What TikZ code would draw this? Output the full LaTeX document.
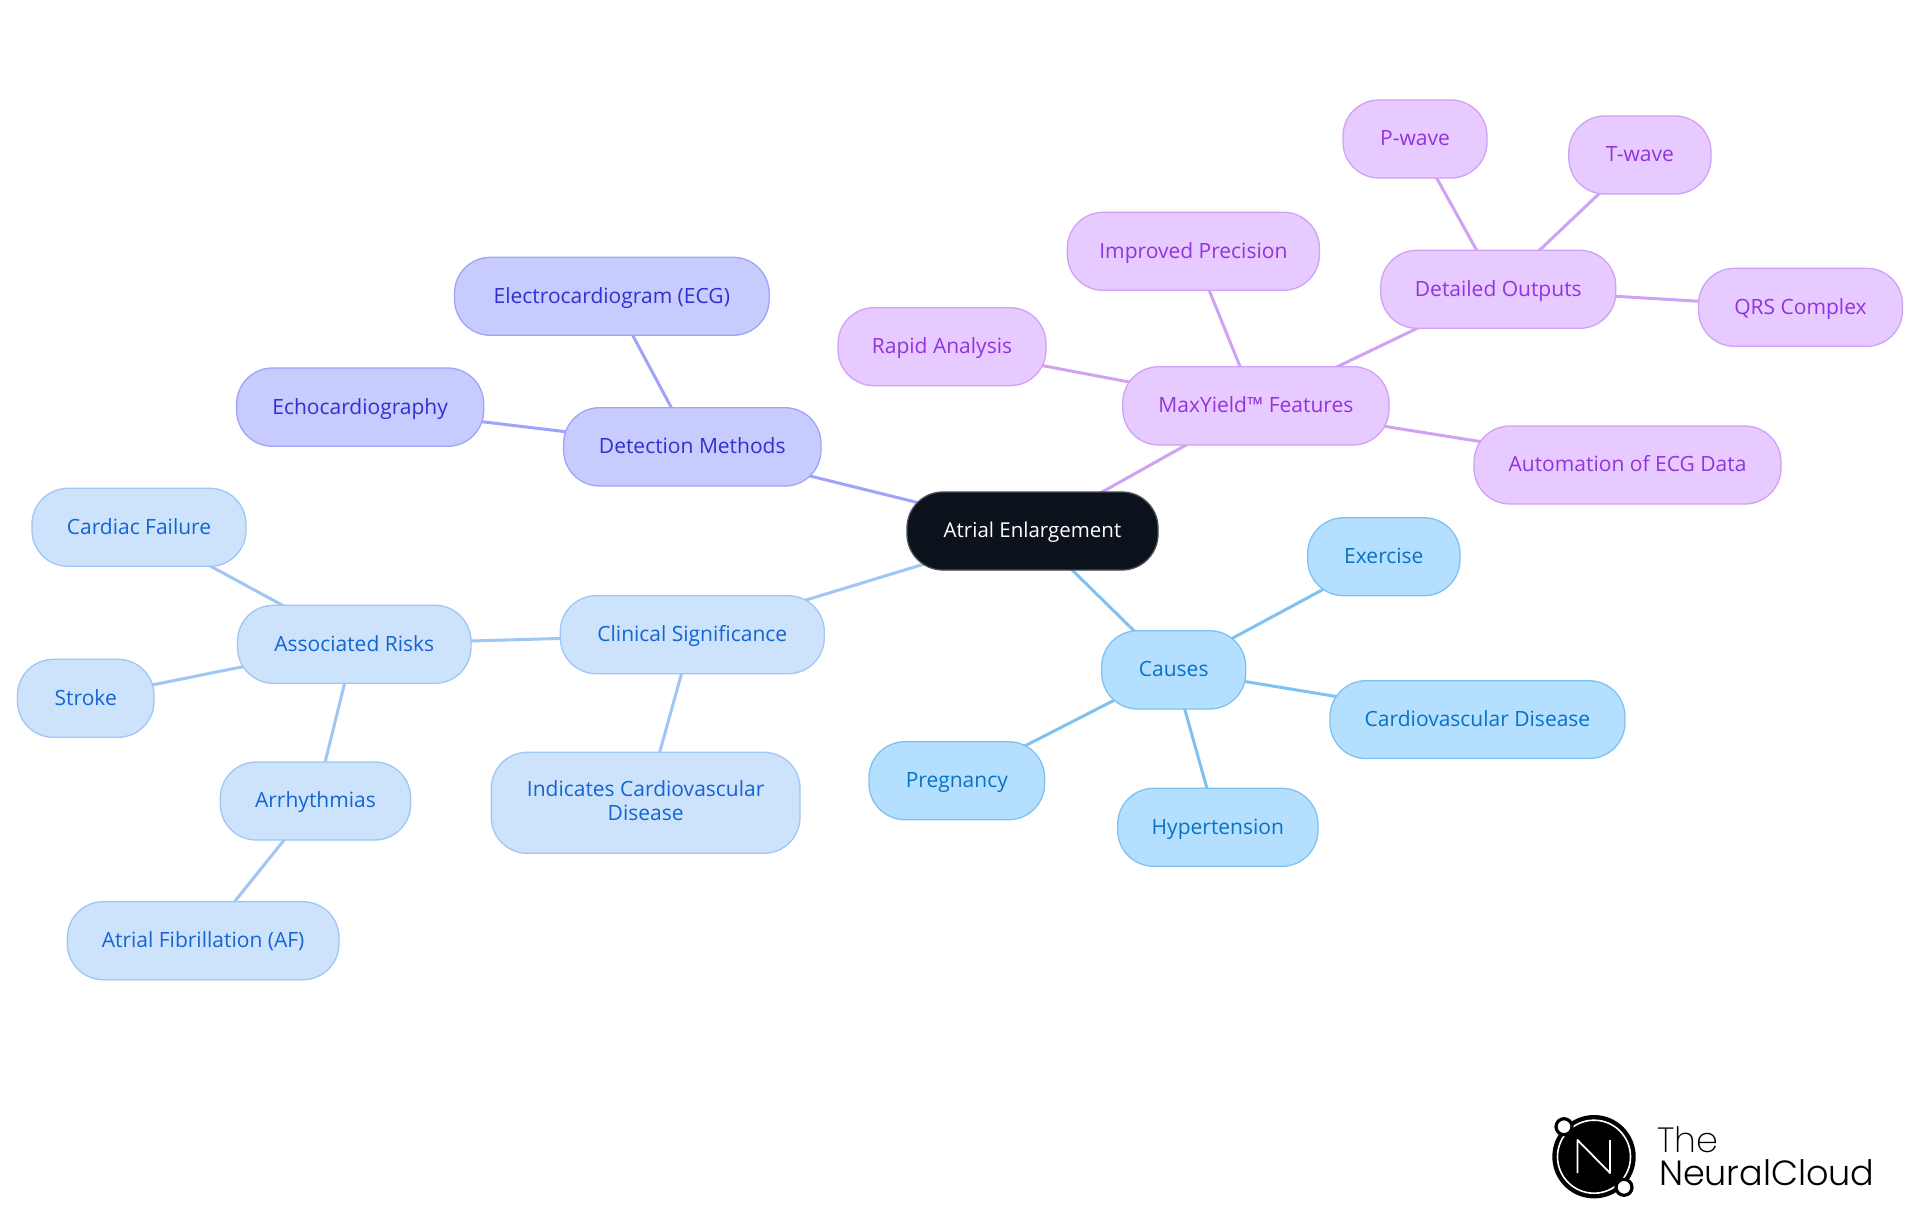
\documentclass[tikz,border=0pt]{standalone}
\usepackage{fontspec}
\setmainfont{Open Sans}
\newfontfamily\logofont[UprightFont=* Light]{Poppins}
\newfontfamily\logothin[UprightFont=* ExtraLight]{Poppins}
\usetikzlibrary{backgrounds}
\definecolor{rootfill}{HTML}{0B121B}
\definecolor{cfill}{HTML}{B4DFFF}\definecolor{cline}{HTML}{7FC2F1}\definecolor{ctext}{HTML}{0A72C4}
\definecolor{sfill}{HTML}{CDE3FC}\definecolor{sline}{HTML}{A0C6F4}\definecolor{stext}{HTML}{1464D2}
\definecolor{dfill}{HTML}{C8CBFE}\definecolor{dline}{HTML}{A0A4F8}\definecolor{dtext}{HTML}{3030D0}
\definecolor{mfill}{HTML}{E7CAFF}\definecolor{mline}{HTML}{CFA2F3}\definecolor{mtext}{HTML}{9333E0}
\tikzset{
  x=1pt,y=-1pt,
  mm/.style={rectangle,rounded corners=36pt,inner sep=0pt,outer sep=0pt,line width=1.3pt,
    font=\fontsize{21}{24}\selectfont,align=center,text height=18.4pt,text depth=4.6pt},
  rootn/.style={mm,fill=rootfill,draw=rootfill!75!white,text=white,font=\fontsize{20.5}{24}\selectfont},
  cn/.style={mm,fill=cfill,draw=cline,text=ctext},
  sn/.style={mm,fill=sfill,draw=sline,text=stext},
  dn/.style={mm,fill=dfill,draw=dline,text=dtext},
  pn/.style={mm,fill=mfill,draw=mline,text=mtext},
  twolines/.style={text height=40pt,text depth=4.2pt},
  link/.style={line width=3pt},
  logotext/.style={inner sep=0pt,outer sep=0pt,anchor=base west,text=black}
}
\newcommand{\mmbox}[7][]{%
  \pgfmathsetmacro{\bw}{#5-#3}\pgfmathsetmacro{\bh}{#6-#4}%
  \pgfmathsetmacro{\bx}{(#5+#3)/2}\pgfmathsetmacro{\by}{(#6+#4)/2}%
  \node[#2,#1,minimum width=\bw pt,minimum height=\bh pt] (#7) at (\bx,\by)}
\begin{document}
\begin{tikzpicture}
\path[use as bounding box] (0,0) rectangle (1920,1215);
\mmbox{rootn}{907}{492}{1158}{570}{root} {Atrial Enlargement};
\mmbox{cn}{1101.7}{630.7}{1245.7}{709}{causes} {Causes};
\mmbox{cn}{1307.7}{517.7}{1460}{595.7}{exercise} {Exercise};
\mmbox{cn}{1330}{680.7}{1625}{758.5}{cvd} {Cardiovascular Disease};
\mmbox{cn}{869}{741.7}{1044.6}{819.7}{pregnancy} {Pregnancy};
\mmbox{cn}{1117.7}{788.3}{1318}{866.3}{hyper} {Hypertension};
\mmbox{sn}{560.3}{595.7}{824.3}{673.7}{clinical} {Clinical Significance};
\mmbox[twolines]{sn}{491.3}{752.3}{800}{853.3}{indicates} {Indicates Cardiovascular\\Disease};
\mmbox{sn}{237.5}{605.3}{471}{683.3}{risks} {Associated Risks};
\mmbox{sn}{32}{488.3}{246}{566.3}{failure} {Cardiac Failure};
\mmbox{sn}{17.5}{659.3}{154}{737.3}{stroke} {Stroke};
\mmbox{sn}{220.3}{762}{410.7}{840}{arrhythmias} {Arrhythmias};
\mmbox{sn}{67.3}{901.7}{339}{979.7}{af} {Atrial Fibrillation (AF)};
\mmbox{dn}{563.6}{407.7}{821}{486}{detection} {Detection Methods};
\mmbox{dn}{454.5}{257.3}{769.2}{335.3}{ecg} {Electrocardiogram (ECG)};
\mmbox{dn}{236.6}{368}{483.7}{446.3}{echo} {Echocardiography};
\mmbox{pn}{1122.8}{366.7}{1389}{445}{maxyield} {MaxYield™ Features};
\mmbox{pn}{1067.3}{212.3}{1319.5}{290.3}{precision} {Improved Precision};
\mmbox{pn}{838}{307.7}{1046}{385.7}{rapid} {Rapid Analysis};
\mmbox{pn}{1380.8}{250.3}{1615.8}{328.3}{outputs} {Detailed Outputs};
\mmbox{pn}{1343}{100}{1487}{178}{pwave} {P-wave};
\mmbox{pn}{1568.8}{116}{1711}{194}{twave} {T-wave};
\mmbox{pn}{1698.5}{268.3}{1902.5}{346.3}{qrs} {QRS Complex};
\mmbox{pn}{1474}{426}{1781}{504}{automation} {Automation of ECG Data};
\begin{scope}[on background layer]
  \fill[white] (0,0) rectangle (1920,1215);
  \begin{scope}[link,draw=cline]
    \draw (root.center) -- (causes.center);
    \draw (causes.center) -- (exercise.center);
    \draw (causes.center) -- (cvd.center);
    \draw (causes.center) -- (pregnancy.center);
    \draw (causes.center) -- (hyper.center);
  \end{scope}
  \begin{scope}[link,draw=sline]
    \draw (root.center) -- (clinical.center);
    \draw (clinical.center) -- (indicates.center);
    \draw (clinical.center) -- (risks.center);
    \draw (risks.center) -- (failure.center);
    \draw (risks.center) -- (stroke.center);
    \draw (risks.center) -- (arrhythmias.center);
    \draw (arrhythmias.center) -- (af.center);
  \end{scope}
  \begin{scope}[link,draw=dline]
    \draw (root.center) -- (detection.center);
    \draw (detection.center) -- (ecg.center);
    \draw (detection.center) -- (echo.center);
  \end{scope}
  \begin{scope}[link,draw=mline]
    \draw (root.center) -- (maxyield.center);
    \draw (maxyield.center) -- (precision.center);
    \draw (maxyield.center) -- (rapid.center);
    \draw (maxyield.center) -- (outputs.center);
    \draw (maxyield.center) -- (automation.center);
    \draw (outputs.center) -- (pwave.center);
    \draw (outputs.center) -- (twave.center);
    \draw (outputs.center) -- (qrs.center);
  \end{scope}
\end{scope}
% logo
\fill[black] (1594,1156.7) circle[radius=41.7];
\draw[white,line width=1.6pt] (1594,1156.7) circle[radius=36.5];
\draw[white,line width=1.8pt,line join=round] (1577.5,1173) -- (1577.5,1140) -- (1610,1173) -- (1610,1140);
\filldraw[fill=white,draw=black,line width=3.2pt] (1564,1126.7) circle[radius=8];
\filldraw[fill=white,draw=black,line width=3.2pt] (1624,1187.3) circle[radius=8];
\node[logotext,font=\logothin\fontsize{35}{35}\selectfont] (lthe) at (1657,1152) {The};
\node[logotext,font=\logofont\fontsize{35}{35}\selectfont] (lnc) at (1659,1185) {NeuralCloud};
\end{tikzpicture}
\end{document}
